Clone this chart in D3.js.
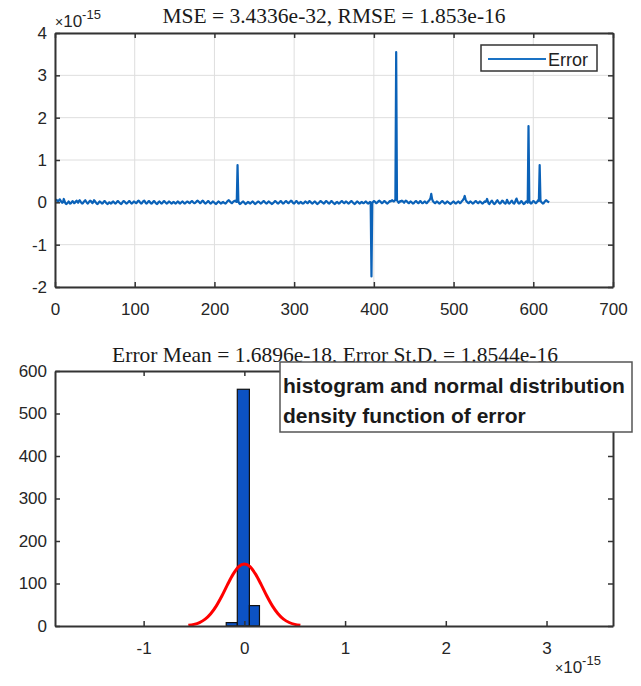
<!DOCTYPE html>
<html lang="en">
<head>
  <meta charset="UTF-8">
  <title>Error plot and histogram</title>
  <script src="https://cdn.jsdelivr.net/npm/d3@7"></script>
  <style>
    body { margin: 0; background: #fff; }
    svg { display: block; }
    .tick text { font-family: "Liberation Sans", Arial, sans-serif; font-size: 17px; fill: #262626; }
    .title { font-family: "Liberation Serif", "Times New Roman", serif; font-size: 21.5px; fill: #1a1a1a; }
  </style>
</head>
<body>
<div id="chart"></div>
<script>
  // error series, in units of 0.01 x 1e-15, sample index 1..620
  const errorHundredths = [
    4,6,3,2,5,7,4,1,-1,0,8,3,-2,-4,-3,-1,2,0,-3,-2,
    0,3,1,-2,-1,2,4,1,-1,3,5,2,-1,-3,-2,1,3,5,2,-1,
    -3,-1,2,4,3,0,-2,1,5,3,0,-2,-4,-3,0,2,1,-1,-3,-2,
    1,3,2,-1,-3,-4,-2,0,-1,-3,-2,1,2,0,-2,-3,-1,2,3,1,
    -1,-3,-4,-2,1,3,2,0,-2,-3,-1,1,3,2,-1,-3,-2,0,2,1,
    -1,-2,0,3,4,2,-1,-3,-2,1,3,4,1,-2,-3,-1,2,3,1,-2,
    -3,-2,1,3,2,-1,-3,-4,-2,1,2,0,-2,-3,-1,2,3,1,-1,-3,
    -2,0,2,1,-1,-3,-2,0,1,-1,-3,-2,0,2,1,-2,-3,-1,1,2,
    0,-2,-3,-1,1,2,1,-1,-2,0,2,3,1,-1,-2,-1,1,3,4,2,
    0,-2,-1,2,4,3,0,-2,-3,-1,1,3,2,-1,-3,-2,0,2,1,-1,
    -3,-4,-2,0,2,1,-1,-3,-2,0,1,-1,-2,-3,-1,2,4,5,3,1,
    -1,-2,0,2,3,4,2,1,88,3,-2,-4,-3,-1,1,2,0,-2,-4,-3,
    -1,1,0,-2,-3,-1,1,2,0,-2,-4,-3,-1,1,2,1,-1,-3,-2,0,
    2,3,1,-1,-3,-2,0,2,1,-1,-2,-4,-3,-1,1,3,2,0,-2,-3,
    -1,1,3,2,-1,-3,-2,0,2,3,1,-1,-2,0,2,4,3,0,-2,-3,
    -1,2,3,1,-2,-3,-1,1,0,-2,-3,-2,0,2,1,-1,-2,0,3,2,
    0,-2,-3,-1,1,2,0,-2,-4,-3,-1,1,3,2,0,-1,-3,-2,1,3,
    2,0,-2,-3,-1,2,3,1,-1,-3,-4,-2,0,1,-1,-3,-2,0,2,3,
    1,-1,-2,0,2,1,-1,-3,-2,0,2,3,1,-1,-3,-4,-2,0,2,1,
    -1,-3,-2,0,1,-1,-2,-1,1,2,0,-2,-3,-1,1,0,-175,-2,1,3,
    2,0,-2,-1,1,3,4,2,0,-2,-1,1,3,2,0,-2,-3,-1,1,3,
    2,4,5,3,2,4,6,355,5,2,-1,0,3,2,4,3,1,-1,2,4,
    3,1,-1,-2,0,2,1,-1,-3,-2,0,2,3,1,-1,-2,0,3,2,-1,
    -2,-1,1,2,0,-2,-1,2,4,6,10,20,8,3,1,-1,-2,0,2,1,
    -1,-3,-2,0,2,3,1,-1,-3,-2,0,2,1,-1,-2,-4,-3,-1,1,2,
    0,-2,-3,-1,1,2,0,-2,-1,2,4,6,10,15,7,3,1,-1,-2,0,
    2,1,-1,-3,-2,0,2,3,1,-1,-2,0,2,1,-1,-3,-2,0,2,1,
    3,8,2,-3,-4,-1,2,4,1,-2,-4,-3,0,3,5,2,-1,-3,-2,1,
    4,3,0,-2,-3,0,6,2,-2,-3,-1,2,4,1,-2,-3,0,5,9,3,
    -1,-3,-2,1,3,1,-2,-4,-3,0,2,1,-1,180,4,-1,-3,-2,1,3,
    2,0,-2,-1,2,5,3,88,4,1,-1,-3,-2,1,3,5,4,2,1,0
  ];

  const topXTicks = [0, 100, 200, 300, 400, 500, 600, 700];
  const topYTicks = [-2, -1, 0, 1, 2, 3, 4];

  // histogram bins (x in units of 1e-15)
  const binStart = [-0.18, -0.07, 0.05];
  const binEnd   = [-0.07, 0.05, 0.15];
  const binCount = [8, 557, 48];

  // fitted normal curve
  const curveX = [-0.556, -0.500, -0.445, -0.389, -0.334, -0.278, -0.222, -0.167, -0.111, -0.056, 0,
                  0.056, 0.111, 0.167, 0.222, 0.278, 0.334, 0.389, 0.445, 0.500, 0.556];
  const curveY = [1.6, 3.8, 8.2, 16.1, 28.9, 47.4, 71.1, 97.4, 122.0, 139.6, 146,
                  139.6, 122.0, 97.4, 71.1, 47.4, 28.9, 16.1, 8.2, 3.8, 1.6];

  const botXTicks = [-1, 0, 1, 2, 3];
  const botYTicks = [0, 100, 200, 300, 400, 500, 600];

  const width = 641, height = 686;
  const axisColor = "#333";

  const svg = d3.select("#chart").append("svg")
      .attr("width", width)
      .attr("height", height);

  // ---------- top panel: error series ----------
  const topBox = { left: 55, right: 613, top: 33, bottom: 287 };

  const x1 = d3.scaleLinear().domain([0, 700]).range([topBox.left, topBox.right]);
  const y1 = d3.scaleLinear().domain([-2, 4]).range([topBox.bottom, topBox.top]);

  // grid
  const grid = svg.append("g").attr("stroke", "#dedede").attr("stroke-width", 1);
  topXTicks.forEach(t => {
    grid.append("line").attr("x1", x1(t)).attr("x2", x1(t)).attr("y1", topBox.top).attr("y2", topBox.bottom);
  });
  topYTicks.forEach(t => {
    grid.append("line").attr("x1", topBox.left).attr("x2", topBox.right).attr("y1", y1(t)).attr("y2", y1(t));
  });

  const line = d3.line()
      .x((d, i) => x1(i + 1))
      .y(d => y1(d / 100));

  svg.append("path")
      .datum(errorHundredths)
      .attr("fill", "none")
      .attr("stroke", "#0b62b8")
      .attr("stroke-width", 2.2)
      .attr("stroke-linejoin", "round")
      .attr("d", line);

  function frame(box, xs, ys, xTicks, yTicks) {
    const fmt = d => String(d);
    // bottom and left axes with labels
    const gx = svg.append("g")
        .attr("transform", `translate(0,${box.bottom})`)
        .call(d3.axisBottom(xs).tickValues(xTicks).tickFormat(fmt).tickSize(-5).tickPadding(16).tickSizeOuter(0));
    const gy = svg.append("g")
        .attr("transform", `translate(${box.left},0)`)
        .call(d3.axisLeft(ys).tickValues(yTicks).tickFormat(fmt).tickSize(-5).tickPadding(8).tickSizeOuter(0));
    // top and right, ticks only
    const gt = svg.append("g")
        .attr("transform", `translate(0,${box.top})`)
        .call(d3.axisTop(xs).tickValues(xTicks).tickSize(-5).tickFormat("").tickSizeOuter(0));
    const gr = svg.append("g")
        .attr("transform", `translate(${box.right},0)`)
        .call(d3.axisRight(ys).tickValues(yTicks).tickSize(-5).tickFormat("").tickSizeOuter(0));
    [gx, gy, gt, gr].forEach(g => {
      g.select(".domain").attr("stroke", axisColor).attr("stroke-width", 2);
      g.selectAll(".tick line").attr("stroke", axisColor).attr("stroke-width", 1.5);
    });
  }

  frame(topBox, x1, y1, topXTicks, topYTicks);

  // exponent label
  function exponent(xPos, yPos) {
    const t = svg.append("text")
        .attr("x", xPos).attr("y", yPos)
        .style("font-family", "Liberation Sans, Arial, sans-serif")
        .style("font-size", "17px")
        .style("fill", "#262626");
    t.append("tspan").style("font-size", "14px").text("\u00d7");
    t.append("tspan").text("10");
    t.append("tspan").attr("dy", -8).style("font-size", "13px").text("-15");
  }
  exponent(55, 27);

  svg.append("text")
      .attr("class", "title")
      .attr("x", 334).attr("y", 23)
      .attr("text-anchor", "middle")
      .text("MSE = 3.4336e-32, RMSE = 1.853e-16");

  // legend
  const lg = svg.append("g");
  lg.append("rect").attr("x", 481).attr("y", 45).attr("width", 116).attr("height", 26)
      .attr("fill", "#fff").attr("stroke", "#333").attr("stroke-width", 1.5);
  lg.append("line").attr("x1", 488).attr("x2", 546).attr("y1", 59).attr("y2", 59)
      .attr("stroke", "#1a72c4").attr("stroke-width", 2);
  lg.append("text").attr("x", 548).attr("y", 65.5)
      .style("font-family", "Liberation Sans, Arial, sans-serif")
      .style("font-size", "18px").style("fill", "#222")
      .text("Error");

  // ---------- bottom panel: histogram ----------
  const botBox = { left: 55, right: 613, top: 371, bottom: 626 };

  const x2 = d3.scaleLinear().domain([-1.88, 3.66]).range([botBox.left, botBox.right]);
  const y2 = d3.scaleLinear().domain([0, 600]).range([botBox.bottom, botBox.top]);

  svg.append("text")
      .attr("class", "title")
      .attr("x", 335).attr("y", 362)
      .attr("text-anchor", "middle")
      .text("Error Mean = 1.6896e-18, Error St.D. = 1.8544e-16");

  svg.append("g").selectAll("rect")
      .data(binCount)
      .join("rect")
      .attr("x", (d, i) => x2(binStart[i]))
      .attr("width", (d, i) => x2(binEnd[i]) - x2(binStart[i]))
      .attr("y", d => y2(d))
      .attr("height", d => y2(0) - y2(d))
      .attr("fill", "#0c52c4")
      .attr("stroke", "#111")
      .attr("stroke-width", 1.2);

  const curve = d3.line()
      .x((d, i) => x2(curveX[i]))
      .y(d => y2(d))
      .curve(d3.curveMonotoneX);

  svg.append("path")
      .datum(curveY)
      .attr("fill", "none")
      .attr("stroke", "#f00")
      .attr("stroke-width", 3)
      .attr("d", curve);

  frame(botBox, x2, y2, botXTicks, botYTicks);
  exponent(555, 673);

  // annotation box
  const ann = svg.append("g");
  ann.append("rect").attr("x", 280).attr("y", 362).attr("width", 352).attr("height", 70)
      .attr("fill", "#fff").attr("stroke", "#555").attr("stroke-width", 1.5);
  const annLines = ["histogram and normal distribution", "density function of error"];
  ann.selectAll("text")
      .data(annLines)
      .join("text")
      .attr("x", 283)
      .attr("y", (d, i) => 393 + i * 30)
      .style("font-family", "Liberation Sans, Arial, sans-serif")
      .style("font-size", "21px")
      .style("font-weight", "bold")
      .style("fill", "#1a1a1a")
      .text(d => d);
</script>
</body>
</html>
